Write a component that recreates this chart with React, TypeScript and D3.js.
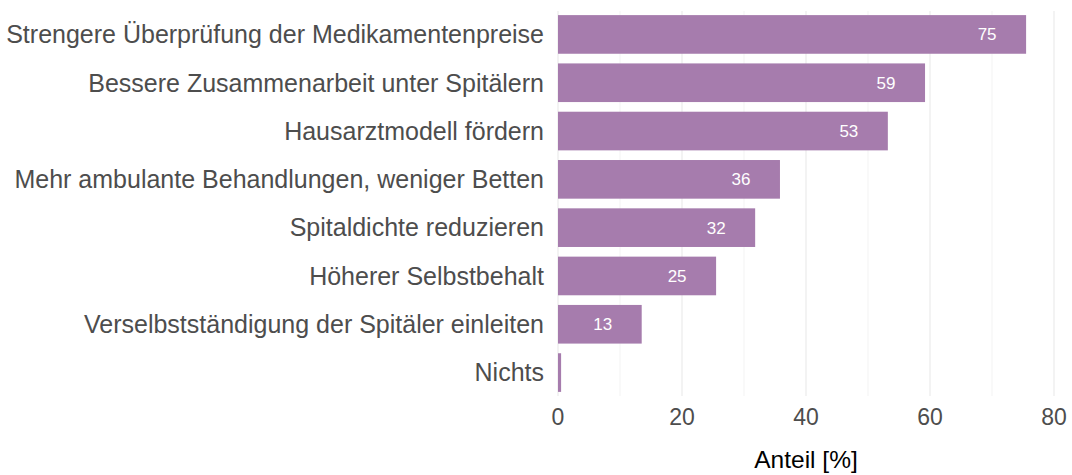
import React from "react"
import * as d3 from "d3"

// data
const categories = [
  "Strengere Überprüfung der Medikamentenpreise",
  "Bessere Zusammenarbeit unter Spitälern",
  "Hausarztmodell fördern",
  "Mehr ambulante Behandlungen, weniger Betten",
  "Spitaldichte reduzieren",
  "Höherer Selbstbehalt",
  "Verselbstständigung der Spitäler einleiten",
  "Nichts",
]
const values = [75.5, 59.2, 53.2, 35.8, 31.8, 25.5, 13.5, 0.5]
const labels = ["75", "59", "53", "36", "32", "25", "13", ""]
const majorTicks = [0, 20, 40, 60, 80]
const minorTicks = [10, 30, 50, 70]

const W = 1072
const H = 475
const FONT = "'Liberation Sans', Arial, Helvetica, sans-serif"
const BAR = "#a67cad"

export default function App() {
  const panel = { left: 558, right: 1054, top: 11, bottom: 396 }

  const x = d3.scaleLinear().domain([0, 80]).range([panel.left, panel.right])
  const y = d3
    .scaleBand<string>()
    .domain(categories)
    .range([panel.top, panel.bottom])
    .paddingInner(0.2)
    .paddingOuter(0.085)

  return (
    <div style={{ position: "absolute", left: 0, top: 0 }}>
      <svg width={W} height={H} style={{ display: "block", background: "#fff" }} fontFamily={FONT}>
        {/* grid */}
        {minorTicks.map((t) => (
          <line key={"m" + t} x1={x(t)} x2={x(t)} y1={panel.top} y2={panel.bottom}
            stroke="#ebebeb" strokeWidth={0.6} />
        ))}
        {majorTicks.map((t) => (
          <line key={"M" + t} x1={x(t)} x2={x(t)} y1={panel.top} y2={panel.bottom}
            stroke="#ebebeb" strokeWidth={1.2} />
        ))}

        {/* bars */}
        {categories.map((c, i) => (
          <rect key={c} x={x(0)} y={y(c)} width={x(values[i]) - x(0)} height={y.bandwidth()} fill={BAR} />
        ))}

        {/* values inside bars */}
        {categories.map((c, i) =>
          labels[i] ? (
            <text key={"v" + c} x={x(values[i]) - 39} y={(y(c) as number) + y.bandwidth() / 2 + 6}
              textAnchor="middle" fontSize={17} fill="#ffffff">
              {labels[i]}
            </text>
          ) : null
        )}

        {/* category labels */}
        {categories.map((c) => (
          <text key={"c" + c} x={544} y={(y(c) as number) + y.bandwidth() / 2 + 8.8}
            textAnchor="end" fontSize={25} fill="#4d4d4d">
            {c}
          </text>
        ))}

        {/* x tick labels */}
        {majorTicks.map((t) => (
          <text key={"t" + t} x={x(t)} y={425} textAnchor="middle" fontSize={23} fill="#4d4d4d">
            {t}
          </text>
        ))}

        <text x={(panel.left + panel.right) / 2} y={468} textAnchor="middle" fontSize={24.5} fill="#000">
          Anteil [%]
        </text>
      </svg>
    </div>
  )
}
